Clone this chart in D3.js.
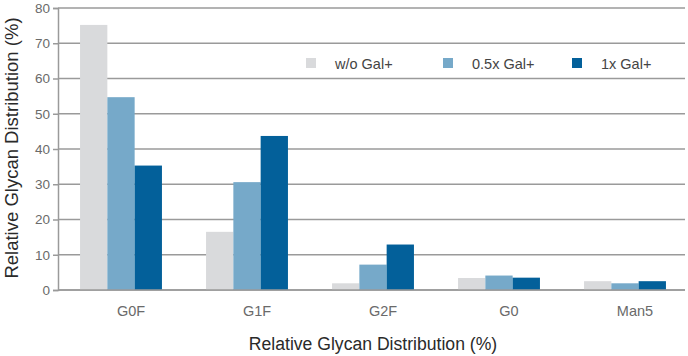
<!DOCTYPE html>
<html><head><meta charset="utf-8">
<script src="https://cdn.jsdelivr.net/npm/d3@7"></script>
<style>body{margin:0;background:#fff}svg{display:block}</style>
</head><body>
<svg id="c" width="688" height="356"></svg>
<script>
const categories = ["G0F","G1F","G2F","G0","Man5"];
const seriesNames = ["w/o Gal+","0.5x Gal+","1x Gal+"];
const woGal = [75.2, 16.5, 1.9, 3.4, 2.5];
const halfGal = [54.7, 30.6, 7.2, 4.1, 1.9];
const oneGal = [35.3, 43.7, 12.9, 3.5, 2.5];
const yTicks = [0,10,20,30,40,50,60,70,80];
const colors = ["#d9dadc","#76a9c9","#03609a"];
const series = [woGal, halfGal, oneGal];

const svg = d3.select("#c");
const m = {l:58, r:0, t:8, b:66};
const W = 688, H = 356;
const x = d3.scaleBand().domain(categories).range([m.l, W - m.r]).paddingInner(0.35).paddingOuter(0.175);
const xs = d3.scaleBand().domain(d3.range(3)).range([0, x.bandwidth()]);
const y = d3.scaleLinear().domain([0,80]).range([H - m.b, m.t]);
const font = "'Liberation Sans', Arial, Helvetica, sans-serif";

// axis + grid
const g = svg.append("g").attr("transform", `translate(${m.l},0)`);
const ax = d3.axisLeft(y).tickValues(yTicks).tickSize(5).tickPadding(3).tickFormat(d3.format("d"));
g.call(ax);
g.select(".domain").attr("stroke","#9a9a9a").attr("stroke-width",1.5);
g.selectAll(".tick line").attr("stroke","#9a9a9a").attr("stroke-width",1.5);
g.selectAll(".tick text").attr("fill","#6a6a6a").style("font-family",font).style("font-size","13.5px");
svg.append("g").selectAll("line").data(yTicks).join("line")
  .attr("x1", m.l).attr("x2", W - 3)
  .attr("y1", d => y(d)).attr("y2", d => y(d))
  .attr("stroke","#9a9a9a").attr("stroke-width",1.5);

// bars
const bars = svg.append("g");
series.forEach((s, i) => {
  bars.selectAll(null).data(categories).join("rect")
    .attr("x", (c) => x(c) + xs(i))
    .attr("width", xs.bandwidth())
    .attr("y", (c, j) => y(s[j]))
    .attr("height", (c, j) => y(0) - y(s[j]))
    .attr("fill", colors[i]);
});
svg.append("line").attr("x1", m.l).attr("x2", W-3).attr("y1", y(0)).attr("y2", y(0)).attr("stroke","#9a9a9a").attr("stroke-width",1.5);

// x labels (slightly offset right of bar groups, as in the original)
const xa = svg.append("g").attr("transform", `translate(10,${y(0)})`).call(d3.axisBottom(x).tickSize(0).tickPadding(16));
xa.select(".domain").remove();
xa.selectAll(".tick text").attr("fill","#6a6a6a").style("font-family",font).style("font-size","14.5px");

// legend
const legX = [306, 443, 572];
const leg = svg.append("g");
seriesNames.forEach((n, i) => {
  leg.append("rect").attr("x", legX[i]).attr("y", 58).attr("width", 10).attr("height", 10).attr("fill", colors[i]);
  leg.append("text").attr("x", legX[i] + 29).attr("y", 68.5).text(n)
    .attr("fill","#444").style("font-family",font).style("font-size","14.5px");
});

// axis titles
svg.append("text").attr("x", 373).attr("y", 350).attr("text-anchor","middle")
  .text("Relative Glycan Distribution (%)").attr("fill","#2a2a2a")
  .style("font-family",font).style("font-size","17.6px");
svg.append("text").attr("transform", `translate(17.5,148) rotate(-90)`).attr("text-anchor","middle")
  .text("Relative Glycan Distribution (%)").attr("fill","#2a2a2a")
  .style("font-family",font).style("font-size","18.5px");
</script>
</body></html>
